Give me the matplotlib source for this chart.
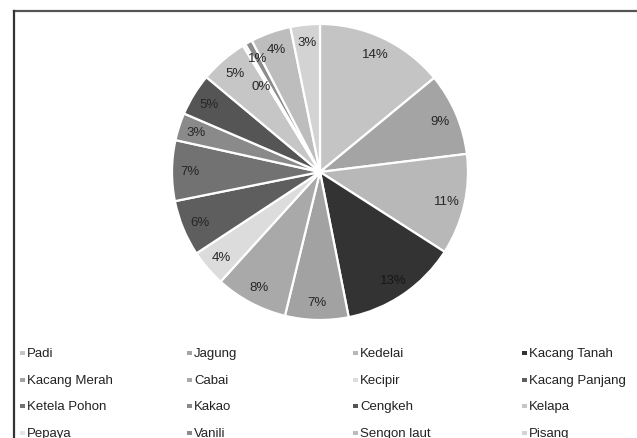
import matplotlib.pyplot as plt
from matplotlib.lines import Line2D
from matplotlib.patches import Rectangle

plt.rcParams["font.family"] = ["Liberation Sans", "DejaVu Sans"]

komoditas = ["Padi", "Jagung", "Kedelai", "Kacang Tanah",
             "Kacang Merah", "Cabai", "Kecipir", "Kacang Panjang",
             "Ketela Pohon", "Kakao", "Cengkeh", "Kelapa",
             "Pepaya", "Vanili", "Sengon laut", "Pisang"]
persen = [14.0, 9.0, 11.0, 12.8,
          6.9, 7.9, 4.0, 6.1,
          6.6, 3.0, 4.6, 5.2,
          0.3, 0.8, 4.4, 3.2]
warna = ["#c4c4c4", "#a4a4a4", "#b8b8b8", "#333333",
         "#a2a2a2", "#a9a9a9", "#dcdcdc", "#5e5e5e",
         "#727272", "#8a8a8a", "#555555", "#c6c6c6",
         "#e6e6e6", "#8c8c8c", "#bdbdbd", "#d3d3d3"]

W, H = 637, 439
fig = plt.figure(figsize=(W / 100, H / 100), dpi=100)

# frame around the chart area
fig.add_artist(Line2D([14 / W, 1], [1 - 12 / H, 1 - 12 / H], color="#555555", lw=1.6))
fig.add_artist(Line2D([14 / W, 14 / W], [0, 1 - 12 / H], color="#333333", lw=1.6))

cx, cy, r = 320, 173, 148
ax = fig.add_axes([(cx - r) / W, (H - cy - r) / H, 2 * r / W, 2 * r / H])
wedges, texts, autotexts = ax.pie(
    persen, colors=warna, startangle=90, counterclock=False,
    autopct="%.0f%%", pctdistance=0.88,
    wedgeprops=dict(edgecolor="white", linewidth=1.6),
    textprops=dict(fontsize=9.5, color="#262626"))
# dark slice label stays dark, only a touch deeper than the fill
autotexts[3].set_color("#161616")
# the tiny slice gets its label pulled inward so it does not collide
autotexts[12].set_position((-0.40, 0.58))
ax.set_xlim(-1, 1)
ax.set_ylim(-1, 1)
ax.set_aspect("equal")
ax.axis("off")

# legend laid out row by row, four per row
col_x = [22, 189, 355, 524]
row_y = [354, 381, 407, 434]
for i, (nama, c) in enumerate(zip(komoditas, warna)):
    x = col_x[i % 4]
    y = row_y[i // 4]
    fig.add_artist(Rectangle(((x - 2) / W, 1 - (y + 2) / H), 4.5 / W, 4.5 / H,
                             facecolor=c, edgecolor="none"))
    fig.text((x + 5) / W, 1 - y / H, nama, fontsize=9.5, color="#222222",
             va="center", ha="left")

fig.savefig("out.png", dpi=100)
